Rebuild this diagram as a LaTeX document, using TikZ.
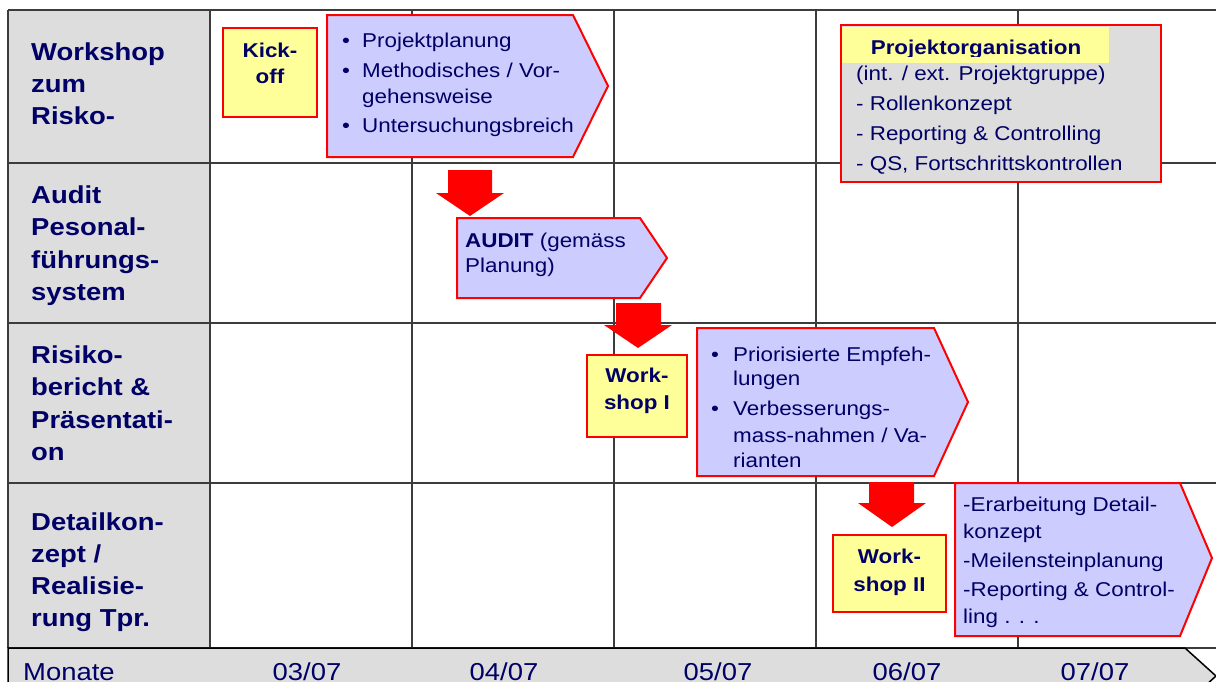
\documentclass[tikz,border=0pt]{standalone}
\usepackage{fontspec}
\setmainfont{Liberation Sans}[FakeStretch=1.12]
\definecolor{txtblue}{RGB}{0,0,102}
\definecolor{gridgray}{RGB}{60,60,60}
\definecolor{lblgray}{RGB}{221,221,221}
\definecolor{lav}{RGB}{204,204,255}
\definecolor{yel}{RGB}{255,255,153}
\tikzset{
  lbl/.style={anchor=base west, text=txtblue, font=\fontsize{24.5}{28}\selectfont\bfseries, inner sep=0pt},
  body/.style={anchor=base west, text=txtblue, font=\fontsize{20}{24}\selectfont, inner sep=0pt},
  bodyb/.style={anchor=base, text=txtblue, font=\fontsize{20}{24}\selectfont\bfseries, inner sep=0pt},
  month/.style={anchor=base, text=txtblue, font=\fontsize{24.5}{28}\selectfont, inner sep=0pt},
  gridline/.style={draw=gridgray, line width=1.5pt},
  ybox/.style={draw=red, fill=yel, line width=2pt},
  pent/.style={draw=red, fill=lav, line width=2pt, line join=miter},
  blockarrow/.style={fill=red},
}
\begin{document}
\begin{tikzpicture}[x=1pt, y=-1pt]
\useasboundingbox (0,0) rectangle (1216,681);
\clip (0,0) rectangle (1216,681);
\fill[white] (0,0) rectangle (1216,681);
% label column
\fill[lblgray] (8,10) rectangle (210,648);
% grid
\foreach \yy in {10,163,323,483,648} \draw[gridline] (8,\yy) -- (1216,\yy);
\foreach \xx in {8,210,412,614,816,1018} \draw[gridline] (\xx,10) -- (\xx,648);
% bottom bar
\draw[fill=lblgray, draw=black, line width=1.5pt] (8,704) -- (8,648) -- (1185,648) -- (1216,676) -- (1185,704) -- cycle;
\node[lbl, font=\fontsize{24.5}{28}\selectfont] (mon) at (23,680) {Monate};
\node[month] (m3) at (307,680) {03/07};
\node[month] (m4) at (504,680) {04/07};
\node[month] (m5) at (718,680) {05/07};
\node[month] (m6) at (907,680) {06/07};
\node[month] (m7) at (1095,680) {07/07};
% row labels
\node[lbl] (l11) at (31,60) {Workshop};
\node[lbl] (l12) at (31,92) {zum};
\node[lbl] (l13) at (31,124) {Risko-};
\node[lbl] (l21) at (31,203) {Audit};
\node[lbl] (l22) at (31,235.5) {Pesonal-};
\node[lbl] (l23) at (31,268) {führungs-};
\node[lbl] (l24) at (31,300) {system};
\node[lbl] (l31) at (31,363) {Risiko-};
\node[lbl] (l32) at (31,395) {bericht \&};
\node[lbl] (l33) at (31,428) {Präsentati-};
\node[lbl] (l34) at (31,460) {on};
\node[lbl] (l41) at (31,530) {Detailkon-};
\node[lbl] (l42) at (31,562) {zept /};
\node[lbl] (l43) at (31,594) {Realisie-};
\node[lbl] (l44) at (31,626) {rung Tpr.};
% Kick-off
\draw[ybox] (223,28) rectangle (317,117);
\node[bodyb] (k1) at (270,57) {Kick-};
\node[bodyb] (k2) at (270,83) {off};
% pentagon 1
\draw[pent] (327,15) -- (573,15) -- (608,86) -- (573,157) -- (327,157) -- cycle;
\node[body] (b1) at (342,47) {\textbullet};
\node[body] (t1) at (362,47) {Projektplanung};
\node[body] (b2) at (342,77) {\textbullet};
\node[body] (t2) at (362,77) {Methodisches / Vor-};
\node[body] (t3) at (362,103) {gehensweise};
\node[body] (b4) at (342,132) {\textbullet};
\node[body] (t4) at (362,132) {Untersuchungsbreich};
% Projektorganisation
\draw[fill=lblgray, draw=red, line width=2pt] (841,25) rectangle (1161,182);
\fill[yel] (842,27) rectangle (1109,63);
\begin{scope}
\clip (842,27) rectangle (1109,56.5);
\node[bodyb] (po) at (976,54) {Projektorganisation};
\end{scope}
\node[body] (p1) at (856,80) {(int. / ext. Projektgruppe)};
\node[body] (p2) at (856,110) {- Rollenkonzept};
\node[body] (p3) at (856,140) {- Reporting \& Controlling};
\node[body] (p4) at (856,170) {- QS, Fortschrittskontrollen};
% arrow 1 and Audit
\fill[blockarrow] (448,170) -- (492,170) -- (492,193) -- (504,193) -- (470,216) -- (436,193) -- (448,193) -- cycle;
\draw[pent] (457,218) -- (640,218) -- (667,258) -- (640,298) -- (457,298) -- cycle;
\node[body] (a1) at (465,247) {\textbf{AUDIT} (gemäss};
\node[body] (a2) at (465,272) {Planung)};
% arrow 2 and Workshop I
\fill[blockarrow] (616,303) -- (661,303) -- (661,325) -- (672,325) -- (638,348) -- (604,325) -- (616,325) -- cycle;
\draw[ybox] (587,355) rectangle (687,437);
\node[bodyb] (w1) at (637,382) {Work-};
\node[bodyb] (w2) at (637,409) {shop I};
\draw[pent] (697,328) -- (934,328) -- (968,402) -- (934,476) -- (697,476) -- cycle;
\node[body] (c1) at (711,361) {\textbullet};
\node[body] (d1) at (733,361) {Priorisierte Empfeh-};
\node[body] (d2) at (733,385) {lungen};
\node[body] (c3) at (711,415) {\textbullet};
\node[body] (d3) at (733,415) {Verbesserungs-};
\node[body] (d4) at (733,442) {mass-nahmen / Va-};
\node[body] (d5) at (733,467) {rianten};
% arrow 3 and Workshop II
\fill[blockarrow] (869,482) -- (914,482) -- (914,503) -- (926,503) -- (892,527) -- (858,503) -- (869,503) -- cycle;
\draw[ybox] (833,535) rectangle (946,612);
\node[bodyb] (v1) at (889.5,563) {Work-};
\node[bodyb] (v2) at (889.5,591) {shop II};
\draw[pent] (955,483) -- (1180,483) -- (1212,558) -- (1180,636) -- (955,636) -- cycle;
\node[body] (e1) at (963,511) {-Erarbeitung Detail-};
\node[body] (e2) at (963,538) {konzept};
\node[body] (e3) at (963,567) {-Meilensteinplanung};
\node[body] (e4) at (963,596) {-Reporting \& Control-};
\node[body] (e5) at (963,623) {ling . . .};
\end{tikzpicture}
\end{document}
